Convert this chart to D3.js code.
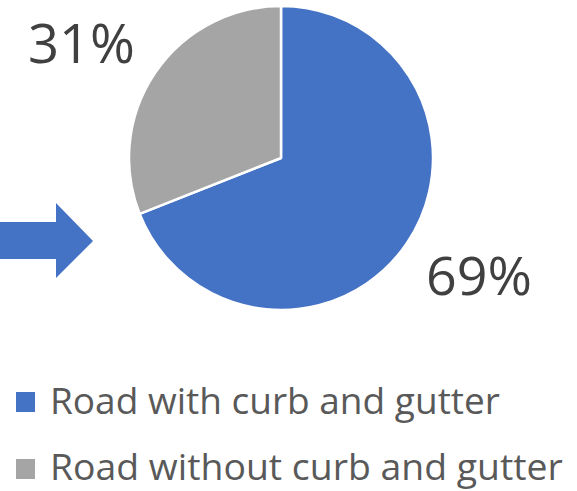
<!DOCTYPE html>
<html><head><meta charset="utf-8">
<script src="https://cdn.jsdelivr.net/npm/d3@7"></script>
<style>body{margin:0;background:#fff}svg{display:block}</style>
</head><body>
<script>
const categories = ["Road with curb and gutter", "Road without curb and gutter"];
const values = [69, 31];
const labels = ["69%", "31%"];
const colors = ["#4472C4", "#A5A5A5"];

const W = 577, H = 491;
const svg = d3.select("body").append("svg").attr("width", W).attr("height", H);

// arrow
const arrow = d3.path();
arrow.moveTo(0, 222); arrow.lineTo(56, 222); arrow.lineTo(56, 203);
arrow.lineTo(93, 241); arrow.lineTo(56, 278); arrow.lineTo(56, 259);
arrow.lineTo(0, 259); arrow.closePath();
svg.append("path").attr("d", arrow.toString()).attr("fill", "#4472C4");

const cx = 281, cy = 158, r = 152;
const pie = d3.pie().sort(null).value(d => d)(values);
const arc = d3.arc().innerRadius(0).outerRadius(r);
const g = svg.append("g").attr("transform", `translate(${cx},${cy})`);
g.selectAll("path").data(pie).join("path")
  .attr("d", arc).attr("fill", (d, i) => colors[i])
  .attr("stroke", "#fff").attr("stroke-width", 2.5).attr("stroke-linejoin", "round");

const font = "'Open Sans', sans-serif";
const lab = [{x: 426, y: 295, w: 106}, {x: 28, y: 63, w: 107}];
labels.forEach((t, i) => {
  const el = svg.append("text").attr("x", lab[i].x).attr("y", lab[i].y)
    .attr("font-family", font).attr("font-size", 48).attr("fill", "#404040").text(t);
  const len = el.node().getComputedTextLength();
  el.attr("font-size", 48 * lab[i].w / len);
});

const leg = [{y: 392, base: 414}, {y: 459, base: 480}];
const legW = [450, 513];
categories.forEach((c, i) => {
  svg.append("rect").attr("x", 16).attr("y", leg[i].y).attr("width", 19).attr("height", 20).attr("fill", colors[i]);
  const el = svg.append("text").attr("x", 50).attr("y", leg[i].base)
    .attr("font-family", font).attr("font-size", 32).attr("fill", "#595959").text(c);
  const len = el.node().getComputedTextLength();
  el.attr("font-size", 32 * legW[i] / len);
});
</script>
</body></html>
